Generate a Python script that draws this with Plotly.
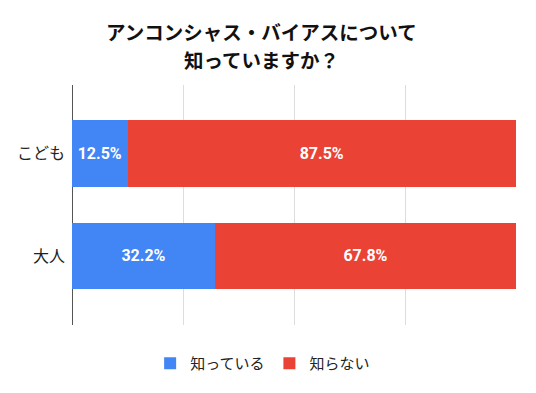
import plotly.graph_objects as go

categories = ["こども", "大人"]
know = [12.5, 32.2]
dont_know = [87.5, 67.8]
series_names = ["知っている", "知らない"]
colors = ["#4285F4", "#EA4335"]
title_lines = ["アンコンシャス・バイアスについて", "知っていますか？"]

FONT = "Noto Sans CJK JP"

fig = go.Figure()
for name, vals, col in zip(series_names, [know, dont_know], colors):
    fig.add_trace(go.Bar(
        y=categories, x=vals, name=name, orientation="h",
        marker=dict(color=col, line=dict(width=0)),
        text=[f"{v:.1f}%" for v in vals],
        textposition="inside", insidetextanchor="middle",
        textfont=dict(color="white", size=16, family="Roboto", weight="bold"),
        hoverinfo="skip",
    ))

# two-line title as annotations (top of plot area = 85px, height 240px)
for line, ypx in zip(title_lines, [32, 60]):
    fig.add_annotation(
        text=f"<b>{line}</b>", xref="paper", yref="paper",
        x=(261 - 72) / 444, y=(325 - ypx) / 240,
        xanchor="center", yanchor="middle", showarrow=False,
        font=dict(size=19.5, family=FONT, color="#111111"),
    )

fig.update_layout(
    barmode="stack",
    bargap=0.353,
    width=536, height=393,
    margin=dict(l=72, r=20, t=85, b=68, autoexpand=False),
    paper_bgcolor="white", plot_bgcolor="white",
    font=dict(family=FONT, color="#222222"),
    xaxis=dict(range=[0, 100], dtick=25, showgrid=True, gridcolor="#dddddd",
               showticklabels=False, zeroline=True, zerolinecolor="#555555",
               zerolinewidth=1, fixedrange=True, automargin=False),
    yaxis=dict(range=[1.672, -0.665], tickfont=dict(size=16, family=FONT, color="#222222"),
               ticks="", ticklabelstandoff=6, showline=False, showgrid=False,
               automargin=False, fixedrange=True),
    legend=dict(orientation="h", x=0.49, xanchor="center", y=0.075, yanchor="middle",
                xref="container", yref="container", itemwidth=30,
                font=dict(size=15, family=FONT, color="#222222"), traceorder="normal"),
    uniformtext=dict(mode=False),
)

fig.write_html("out.html", config={"displayModeBar": False},
               post_script="document.body.style.margin='0';")
